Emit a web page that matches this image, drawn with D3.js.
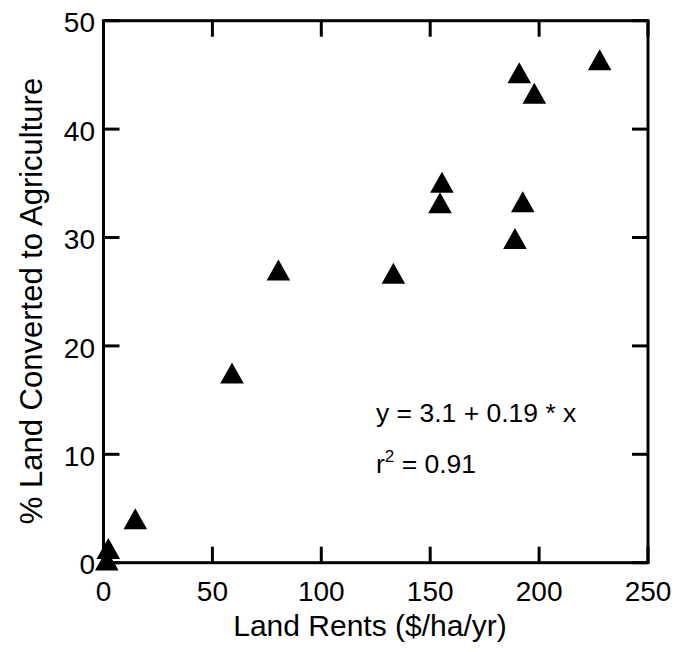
<!DOCTYPE html>
<html>
<head>
<meta charset="utf-8">
<script src="https://cdn.jsdelivr.net/npm/d3@7"></script>
<style>
  body { margin: 0; background: white; }
  text { font-family: "Liberation Sans", Arial, sans-serif; fill: black; }
</style>
</head>
<body>
<div id="chart"></div>
<script>
// data
const rents     = [227.8, 190.9, 197.8, 155.4, 154.5, 192.5, 188.9, 80.3, 133.1, 59.0, 14.6, 2.2, 1.5];
const converted = [46.4, 45.2, 43.3, 35.1, 33.2, 33.3, 29.9, 27.0, 26.7, 17.5, 4.05, 1.3, 0.25];
const xTicks = [0, 50, 100, 150, 200, 250];
const yTicks = [0, 10, 20, 30, 40, 50];
const eqText = "y = 3.1 + 0.19 * x";
const r2Text = "= 0.91";

const W = 677, H = 652;
const margin = { top: 20.7, left: 103.5, right: 29, bottom: 89.3 };
const width = W - margin.left - margin.right,
      height = H - margin.top - margin.bottom;

const svg = d3.select('#chart')
  .append('svg')
  .attr('width', W)
  .attr('height', H);

const g = svg.append('g')
  .attr('transform', `translate(${margin.left},${margin.top})`);

const x = d3.scaleLinear().domain([0, 250]).range([0, width]);
const y = d3.scaleLinear().domain([0, 50]).range([height, 0]);

const tickLen = 16;

// inward ticks on all four sides
g.append('g')
  .selectAll('line')
  .data(xTicks)
  .join('line')
    .attr('x1', d => x(d)).attr('x2', d => x(d))
    .attr('y1', height).attr('y2', height - tickLen)
    .attr('stroke', 'black').attr('stroke-width', 3);
g.append('g')
  .selectAll('line')
  .data(xTicks)
  .join('line')
    .attr('x1', d => x(d)).attr('x2', d => x(d))
    .attr('y1', 0).attr('y2', tickLen)
    .attr('stroke', 'black').attr('stroke-width', 3);
g.append('g')
  .selectAll('line')
  .data(yTicks)
  .join('line')
    .attr('x1', 0).attr('x2', tickLen)
    .attr('y1', d => y(d)).attr('y2', d => y(d))
    .attr('stroke', 'black').attr('stroke-width', 3);
g.append('g')
  .selectAll('line')
  .data(yTicks)
  .join('line')
    .attr('x1', width).attr('x2', width - tickLen)
    .attr('y1', d => y(d)).attr('y2', d => y(d))
    .attr('stroke', 'black').attr('stroke-width', 3);

// frame
g.append('rect')
  .attr('x', 0).attr('y', 0)
  .attr('width', width).attr('height', height)
  .attr('fill', 'none')
  .attr('stroke', 'black')
  .attr('stroke-width', 3);

// tick labels
g.selectAll('text.xl')
  .data(xTicks)
  .join('text')
    .attr('class', 'xl')
    .attr('x', d => x(d))
    .attr('y', height + 38)
    .attr('text-anchor', 'middle')
    .style('font-size', '28px')
    .text(d => d);

g.selectAll('text.yl')
  .data(yTicks)
  .join('text')
    .attr('class', 'yl')
    .attr('x', -8.5)
    .attr('y', d => y(d) + 11.7)
    .attr('text-anchor', 'end')
    .style('font-size', '28px')
    .text(d => d);

// axis titles
svg.append('text')
  .attr('x', 370)
  .attr('y', 636)
  .attr('text-anchor', 'middle')
  .style('font-size', '30px')
  .text('Land Rents ($/ha/yr)');

svg.append('text')
  .attr('transform', 'translate(41.5,301) rotate(-90)')
  .attr('text-anchor', 'middle')
  .style('font-size', '31px')
  .text('% Land Converted to Agriculture');

// triangles
const tri = 'M0,-10.5 L11.8,10.5 L-11.8,10.5 Z';
g.selectAll('path.pt')
  .data(rents.map((r, i) => ({ r: r, c: converted[i] })))
  .join('path')
    .attr('class', 'pt')
    .attr('d', tri)
    .attr('transform', d => `translate(${x(d.r)},${y(d.c)})`)
    .attr('fill', 'black');

// regression annotation
svg.append('text')
  .attr('x', 376)
  .attr('y', 421.7)
  .style('font-size', '26.5px')
  .text(eqText);

const r2 = svg.append('text')
  .attr('x', 376)
  .attr('y', 473.3)
  .style('font-size', '26.5px');
r2.append('tspan').text('r');
r2.append('tspan').attr('dy', -11).style('font-size', '17px').text('2');
r2.append('tspan').attr('dy', 11).text(' ' + r2Text);
</script>
</body>
</html>
